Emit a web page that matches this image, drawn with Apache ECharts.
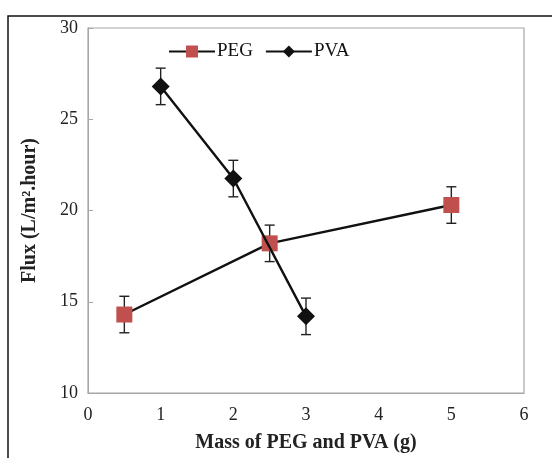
<!DOCTYPE html>
<html><head><meta charset="utf-8">
<script src="https://cdn.jsdelivr.net/npm/echarts@6/dist/echarts.min.js"></script>
<style>html,body{margin:0;padding:0;background:#fff}#c{width:552px;height:458px}</style>
</head><body><div id="c"></div>
<script>
const pegX = [0.5, 2.5, 5];
const pegY = [14.3, 18.2, 20.3];
const pegErr = [1.0, 1.0, 1.0];
const pvaX = [1, 2, 3];
const pvaY = [26.8, 21.75, 14.2];
const pvaErr = [1.0, 1.0, 1.0];
const xTicks = [0, 1, 2, 3, 4, 5, 6];
const yTicks = [10, 15, 20, 25, 30];

const serif = '"Liberation Serif","DejaVu Serif",serif';
const chart = echarts.init(document.getElementById('c'));

function errData(xs, ys, es) { return xs.map((x, i) => [x, ys[i] - es[i], ys[i] + es[i]]); }
function errRender(params, api) {
  const x = api.value(0);
  const lo = api.coord([x, api.value(1)]);
  const hi = api.coord([x, api.value(2)]);
  const w = 5;
  const st = { stroke: '#222', lineWidth: 1.4 };
  return { type: 'group', children: [
    { type: 'line', shape: { x1: lo[0], y1: lo[1], x2: hi[0], y2: hi[1] }, style: st },
    { type: 'line', shape: { x1: lo[0]-w, y1: lo[1], x2: lo[0]+w, y2: lo[1] }, style: st },
    { type: 'line', shape: { x1: hi[0]-w, y1: hi[1], x2: hi[0]+w, y2: hi[1] }, style: st }
  ]};
}

chart.setOption({
  animation: false,
  graphic: [{ type: 'rect', shape: { x: 8, y: 16, width: 700, height: 600 }, style: { fill: 'none', stroke: '#111', lineWidth: 1.5 }, z: 100 }],
  grid: { left: 88, right: 28, top: 28, bottom: 62, show: true, borderColor: '#a6a6a6', borderWidth: 1.2 },
  legend: {
    top: 37, left: 163, itemGap: 12, itemWidth: 46, itemHeight: 15,
    textStyle: { fontFamily: serif, fontSize: 19, color: '#111', padding: [0, 0, 0, -3] },
    data: ['PEG', 'PVA']
  },
  xAxis: {
    type: 'value', min: xTicks[0], max: xTicks[xTicks.length-1], interval: 1,
    name: 'Mass of PEG and PVA (g)', nameLocation: 'middle', nameGap: 40,
    nameTextStyle: { fontFamily: serif, fontSize: 20, fontWeight: 'bold', color: '#222' },
    axisLine: { show: true, lineStyle: { color: '#a6a6a6' } },
    axisTick: { show: false },
    splitLine: { show: false },
    axisLabel: { fontFamily: serif, fontSize: 18, color: '#222', margin: 13 }
  },
  yAxis: {
    type: 'value', min: yTicks[0], max: yTicks[yTicks.length-1], interval: 5,
    name: 'Flux (L/m².hour)', nameLocation: 'middle', nameGap: 48,
    nameTextStyle: { fontFamily: serif, fontSize: 20, fontWeight: 'bold', color: '#222' },
    axisLine: { show: true, lineStyle: { color: '#a6a6a6' } },
    axisTick: { show: true, inside: true, length: 5, lineStyle: { color: '#a6a6a6' } },
    splitLine: { show: false },
    axisLabel: { fontFamily: serif, fontSize: 18, color: '#222', margin: 10 }
  },
  series: [
    { name: 'PEG', type: 'line', data: pegX.map((x, i) => [x, pegY[i]]),
      symbol: 'rect', symbolSize: 16, itemStyle: { color: '#c0504d' },
      lineStyle: { color: '#111', width: 2.4 }, z: 3 },
    { name: 'PVA', type: 'line', data: pvaX.map((x, i) => [x, pvaY[i]]),
      symbol: 'diamond', symbolSize: 18, itemStyle: { color: '#111' },
      lineStyle: { color: '#111', width: 2.4 }, z: 4 },
    { type: 'custom', data: errData(pegX, pegY, pegErr), renderItem: errRender, z: 2 },
    { type: 'custom', data: errData(pvaX, pvaY, pvaErr), renderItem: errRender, z: 2 }
  ]
});
</script></body></html>
